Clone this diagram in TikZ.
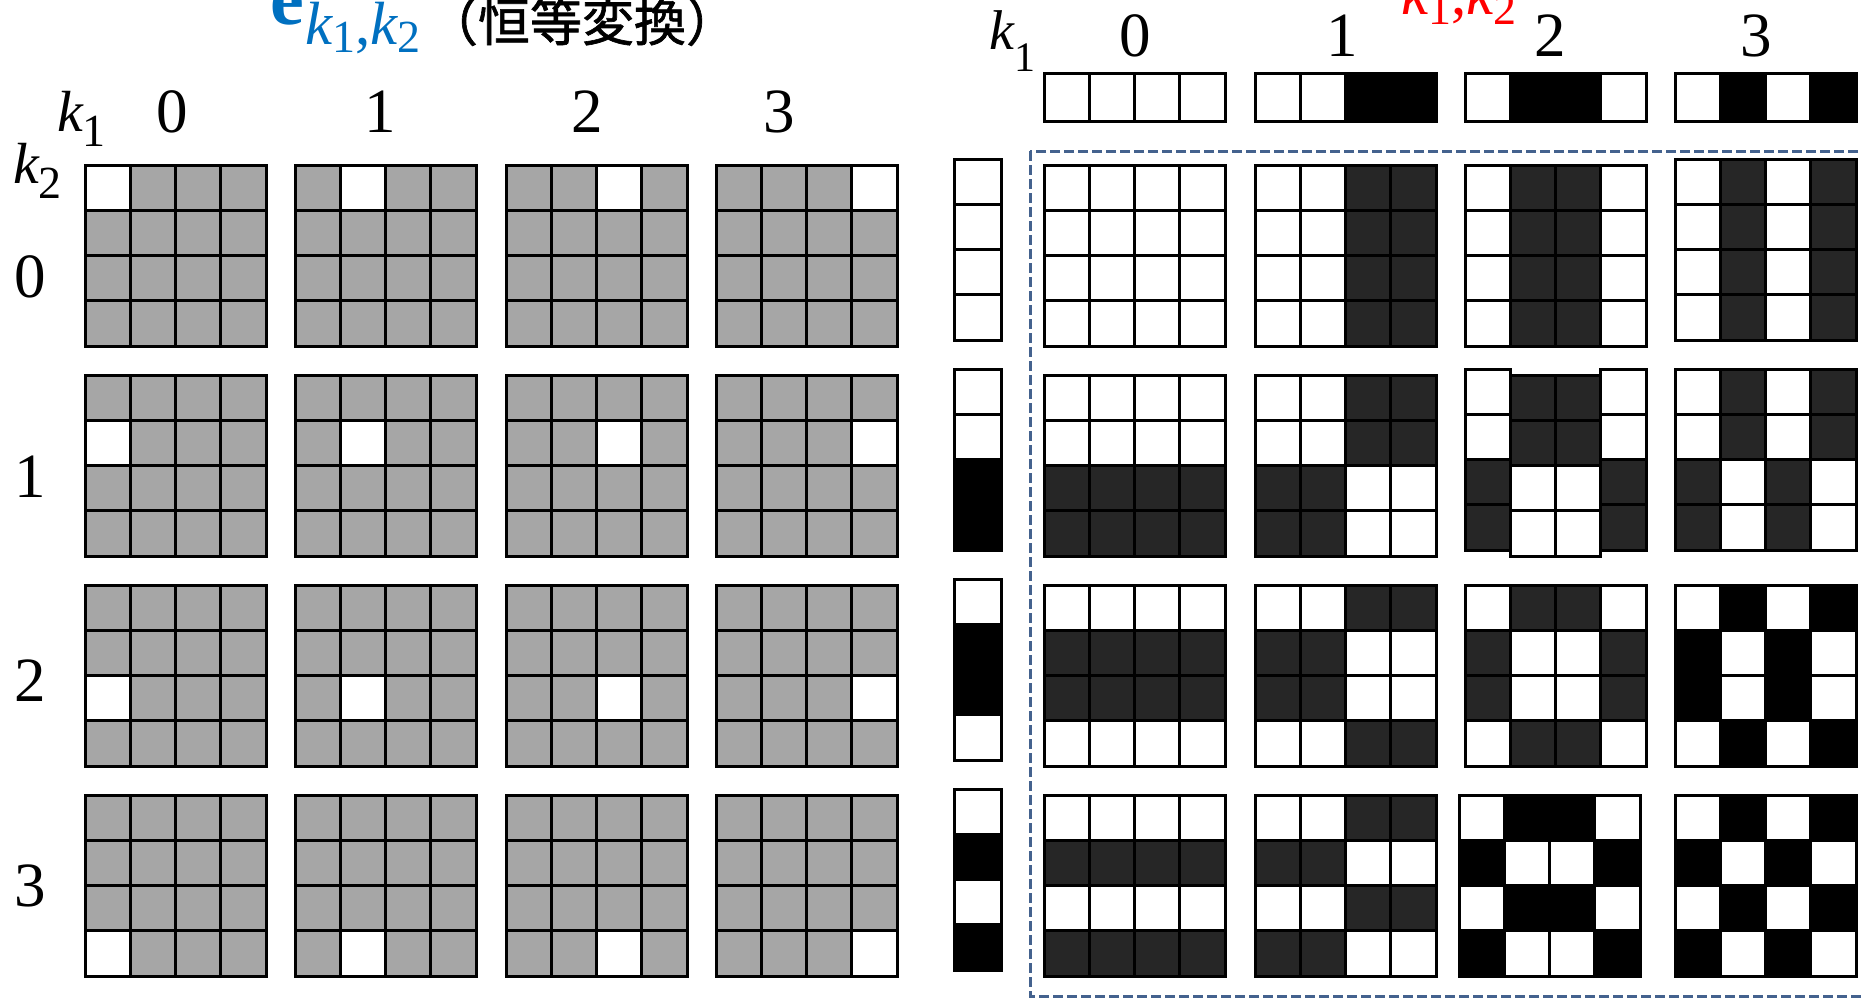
\documentclass[tikz,border=0pt]{standalone}
\usepackage{fontspec}
\setmainfont{Liberation Serif}
\newfontfamily\cjk[FakeBold=1.2]{Noto Sans CJK JP}
\definecolor{gridgray}{HTML}{A6A6A6}
\definecolor{darkcell}{HTML}{262626}
\definecolor{titleblue}{HTML}{0070C0}
\definecolor{frameblue}{HTML}{44628E}
\newcommand\myfs[1]{\fontsize{#1}{#1}\selectfont}
% k with a lowered digit: k size, digit size, digit, drop (pt)
\newcommand\ksub[4]{{\myfs{#1}\itshape k}\raisebox{-#4pt}{\myfs{#2}#3}}
\def\bits{{0,0,0,0,0,0,1,1,0,1,1,0,0,1,0,1}}
\begin{document}
\begin{tikzpicture}[x=1pt,y=-1pt,
  cell/.style={line width=3pt, draw=black, line join=miter},
  lbl/.style={inner sep=0pt, anchor=base},
  lblw/.style={inner sep=0pt, anchor=base west},
  frame/.style={draw=frameblue, line width=3pt, dash pattern=on 10pt off 4pt}]
\useasboundingbox[fill=white] (0,0) rectangle (1861,998);

% ---------- left: identity basis (gray grids) ----------
\foreach \ka/\gx in {0/85,1/295,2/506,3/716}{
 \foreach \kb/\gy in {0/165,1/375,2/585,3/795}{
  \foreach \r in {0,...,3}{
   \foreach \c in {0,...,3}{
     \def\fc{gridgray}
     \ifnum\r=\kb \ifnum\c=\ka \def\fc{white}\fi\fi
     \draw[cell, fill=\fc] (\gx+\c*45.25, \gy+\r*45.25) rectangle ++(45.25,45.25);
   }}}}

% ---------- dashed frame ----------
\draw[frame] (1030,151) rectangle (1880,996);

% ---------- right: Walsh basis ----------
\foreach \ka/\gx in {0/1044,1/1255,2/1465,3/1675}{
 \foreach \kb/\gy in {0/165,1/375,2/585,3/795}{
  \foreach \r in {0,...,3}{
   \foreach \c in {0,...,3}{
     \pgfmathtruncatemacro\hb{\bits[4*\ka+\c]}
     \pgfmathtruncatemacro\vb{\bits[4*\kb+\r]}
     \pgfmathtruncatemacro\isblk{mod(\hb+\vb,2)}
     \pgfmathtruncatemacro\pure{((\ka==3)&&(\kb>1))||((\ka==2)&&(\kb==3))}
     \pgfmathtruncatemacro\sh{((\ka==3)&&(\kb<2))||((\ka==2)&&(\kb==1)&&((\c==0)||(\c==3)))}
     \pgfmathtruncatemacro\shx{(\ka==2)&&(\kb==3)}
     \def\fc{white}
     \ifnum\isblk=1 \ifnum\pure=1 \def\fc{black}\else\def\fc{darkcell}\fi\fi
     \draw[cell, fill=\fc] (\gx+\c*45.25-6*\shx, \gy+\r*45.25-6*\sh) rectangle ++(45.25,45.25);
   }}}}

% ---------- top strips (k1) ----------
\foreach \ka/\gx in {0/1044,1/1255,2/1465,3/1675}{
  \foreach \c in {0,...,3}{
    \pgfmathtruncatemacro\hb{\bits[4*\ka+\c]}
    \def\fc{white}\ifnum\hb=1 \def\fc{black}\fi
    \draw[cell, fill=\fc] (\gx+\c*45.25, 74) rectangle ++(45.25,47);
  }}

% ---------- left strips (k2) ----------
\foreach \kb/\gy in {0/159,1/369,2/579,3/789}{
  \foreach \r in {0,...,3}{
    \pgfmathtruncatemacro\vb{\bits[4*\kb+\r]}
    \def\fc{white}\ifnum\vb=1 \def\fc{black}\fi
    \draw[cell, fill=\fc] (954, \gy+\r*45.25) rectangle ++(47,45.25);
  }}

% ---------- titles ----------
\node[lblw, text=titleblue] (title-e) at (270,25) {\myfs{76}\bfseries e};
\node[lblw, text=titleblue] (title-sub) at (305,45)
  {\ksub{61}{46}{1}{8}{\myfs{61},}\ksub{61}{46}{2}{8}};
\node[lbl] (title-cjk) at (582,41) {\cjk\myfs{52}（恒等変換）};
\node[lblw, text=red] (red-sub) at (1401,15)
  {\ksub{61}{46}{1}{10}{\myfs{61},}\ksub{61}{46}{2}{10}};

% ---------- axis labels ----------
\node[lblw] (lk1) at (57,131) {\ksub{58}{46}{1}{15}};
\node[lblw] (lk2) at (13,183) {\ksub{58}{46}{2}{15}};
\node[lblw] (rk1) at (989,50) {\ksub{56}{42}{1}{21}};

\foreach \t/\x in {0/172,1/380,2/587,3/779}
  \node[lbl] (lh\t) at (\x,132) {\myfs{63}\t};
\foreach \t/\x in {0/1135,1/1342,2/1550,3/1756}
  \node[lbl] (rh\t) at (\x,57) {\myfs{63}\t};
\foreach \t/\y in {0/297,1/497,2/701,3/906}
  \node[lbl] (row\t) at (30,\y) {\myfs{63}\t};
\end{tikzpicture}
\end{document}
